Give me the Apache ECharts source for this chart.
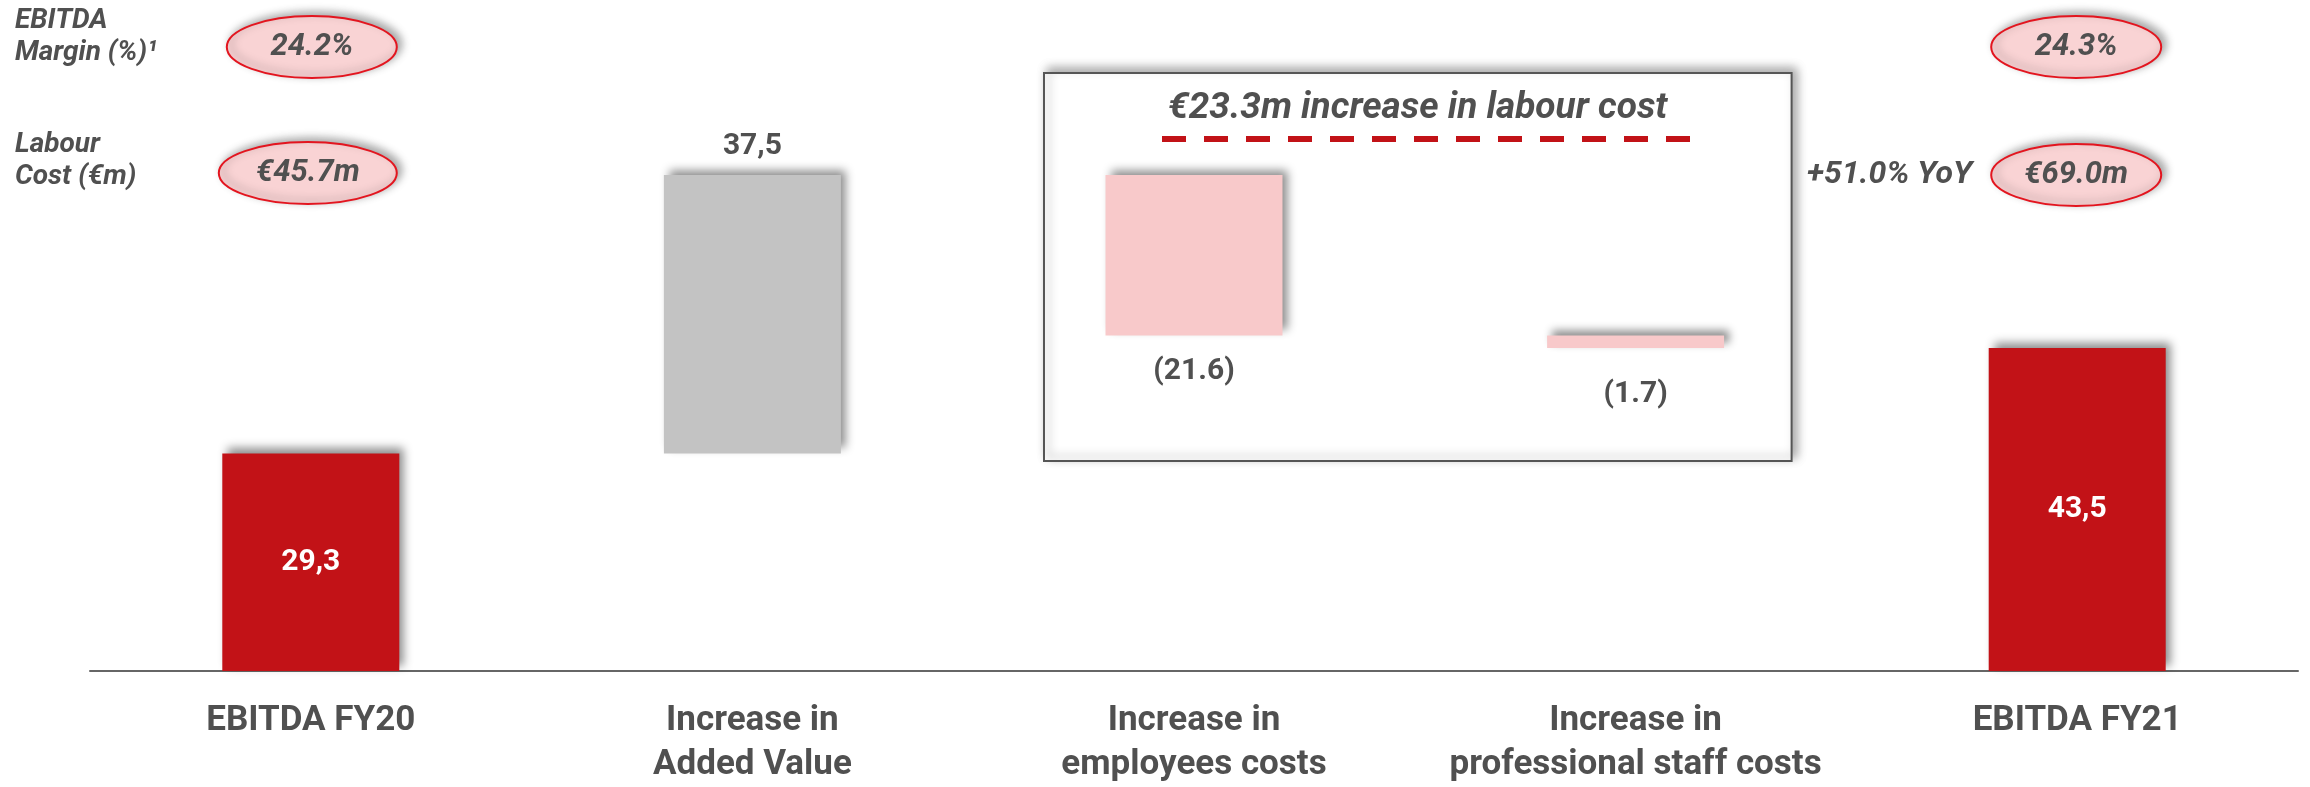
<!DOCTYPE html>
<html>
<head>
<meta charset="utf-8">
<script src="https://cdn.jsdelivr.net/npm/echarts@6/dist/echarts.min.js"></script>
<style>
  html, body { margin: 0; padding: 0; background: #ffffff; }
  #chart { width: 2310px; height: 787px; }
</style>
</head>
<body>
<div id="chart"></div>
<script>
// EBITDA bridge FY20 -> FY21 (€m)
const categories = [
  'EBITDA FY20',
  'Increase in\nAdded Value',
  'Increase in\nemployees costs',
  'Increase in\nprofessional staff costs',
  'EBITDA FY21'
];
const stepValues = [29.3, 37.5, -21.6, -1.7, 43.5];
const stepKinds = ['total', 'increase', 'decrease', 'decrease', 'total'];

// Header annotations
const marginLabels = ['24.2%', '24.3%'];
const labourCostLabels = ['€45.7m', '€69.0m'];
const labourCostGrowth = '+51.0% YoY';
const labourCostIncrease = '€23.3m increase in labour cost';

const TEXT = '#505050';
const FONT = 'Roboto, "Noto Sans", sans-serif';
const kindColors = { total: '#C21217', increase: '#C3C3C3', decrease: '#F8C9CA' };

// Waterfall: invisible base + visible step
const baseData = [];
const stepData = [];
let running = 0;
stepValues.forEach((v, i) => {
  const kind = stepKinds[i];
  if (kind === 'total') {
    baseData.push(0);
    running = v;
  } else if (kind === 'increase') {
    baseData.push(running);
    running += v;
  } else {
    running += v;
    baseData.push(running);
  }
  const isTotal = kind === 'total';
  stepData.push({
    value: Math.abs(v),
    itemStyle: { color: kindColors[kind] },
    label: isTotal
      ? { position: 'inside', color: '#ffffff', fontSize: 30 }
      : kind === 'increase'
        ? { position: 'top', distance: 14, color: TEXT, fontSize: 30 }
        : { position: 'bottom', distance: i === 3 ? 31 : 21, color: TEXT, fontSize: 30 }
  });
});

function formatStep(i) {
  const v = stepValues[i];
  if (stepKinds[i] === 'decrease') return '(' + Math.abs(v).toFixed(1) + ')';
  return v.toFixed(1).replace('.', ',');
}

const chart = echarts.init(document.getElementById('chart'), null, { renderer: 'canvas' });

chart.setOption({
  animation: false,
  backgroundColor: '#ffffff',
  grid: { left: 90, right: 12, top: 77, bottom: 112 },
  xAxis: {
    type: 'category',
    data: categories,
    axisLine: { show: true, lineStyle: { color: '#666666', width: 2 } },
    axisTick: { show: false },
    axisLabel: {
      color: TEXT,
      fontFamily: FONT,
      fontWeight: 'bold',
      fontSize: 35,
      lineHeight: 44,
      margin: 28,
      interval: 0
    }
  },
  yAxis: {
    type: 'value',
    min: 0,
    max: 80,
    show: false,
    splitLine: { show: false }
  },
  series: [
    {
      type: 'bar',
      stack: 'bridge',
      data: baseData,
      barWidth: 177,
      itemStyle: { color: 'rgba(0,0,0,0)' },
      emphasis: { disabled: true },
      silent: true
    },
    {
      type: 'bar',
      stack: 'bridge',
      data: stepData,
      barWidth: 177,
      itemStyle: {
        shadowBlur: 9,
        shadowColor: 'rgba(0,0,0,0.45)',
        shadowOffsetX: 5,
        shadowOffsetY: -5
      },
      label: {
        show: true,
        fontFamily: FONT,
        fontWeight: 'bold',
        formatter: p => formatStep(p.dataIndex)
      },
      emphasis: { disabled: true }
    }
  ]
});

// Annotations placed against the category positions
const xs = categories.map((c, i) => chart.convertToPixel({ xAxisIndex: 0 }, i));

function ellipse(cx, cy, rx, ry, text) {
  return [
    {
      type: 'ellipse',
      z: 5,
      shape: { cx, cy, rx, ry },
      style: {
        fill: '#F9D3D4',
        stroke: '#E3151F',
        lineWidth: 2,
        shadowBlur: 8,
        shadowColor: 'rgba(0,0,0,0.35)',
        shadowOffsetX: 4,
        shadowOffsetY: -3
      }
    },
    {
      type: 'text',
      z: 6,
      x: cx,
      y: cy,
      style: {
        text,
        fill: TEXT,
        fontFamily: FONT,
        fontSize: 31,
        fontWeight: 'bold',
        fontStyle: 'italic',
        align: 'center',
        verticalAlign: 'middle'
      }
    }
  ];
}

function headerText(x, y, text, align, size) {
  return {
    type: 'text',
    z: 6,
    x,
    y,
    style: {
      text,
      fill: TEXT,
      fontFamily: FONT,
      fontSize: size || 28,
      fontWeight: 'bold',
      fontStyle: 'italic',
      lineHeight: 32,
      align: align || 'left',
      verticalAlign: 'middle'
    }
  };
}

const boxLeft = xs[2] - 150;
const boxRight = xs[3] + 156;
const boxTop = 73;
const boxBottom = 461;
const boxMid = (boxLeft + boxRight) / 2;

const graphics = [
  // labour cost box
  {
    type: 'rect',
    z: 0,
    shape: { x: boxLeft, y: boxTop, width: boxRight - boxLeft, height: boxBottom - boxTop },
    style: {
      fill: '#ffffff',
      stroke: '#555555',
      lineWidth: 2,
      shadowBlur: 10,
      shadowColor: 'rgba(0,0,0,0.35)',
      shadowOffsetX: 4,
      shadowOffsetY: -4
    }
  },
  {
    type: 'text',
    z: 6,
    x: boxMid,
    y: 109,
    style: {
      text: labourCostIncrease,
      fill: TEXT,
      fontFamily: FONT,
      fontSize: 37,
      fontWeight: 'bold',
      fontStyle: 'italic',
      align: 'center',
      verticalAlign: 'middle'
    }
  },
  {
    type: 'line',
    z: 6,
    shape: { x1: boxLeft + 118, y1: 139, x2: boxLeft + 650, y2: 139 },
    style: { stroke: '#C21217', lineWidth: 6, lineDash: [24, 18] }
  },
  // row headers
  headerText(15, 37, 'EBITDA\nMargin (%)¹'),
  headerText(15, 161, 'Labour\nCost (€m)'),
  headerText(xs[4] - 105, 175, labourCostGrowth, 'right', 32)
];

graphics.push(...ellipse(xs[0] + 1, 47, 85, 31, marginLabels[0]));
graphics.push(...ellipse(xs[0] - 3, 173, 89, 31, labourCostLabels[0]));
graphics.push(...ellipse(xs[4] - 1, 47, 85, 31, marginLabels[1]));
graphics.push(...ellipse(xs[4] - 1, 175, 85, 31, labourCostLabels[1]));

chart.setOption({ graphic: graphics });
</script>
</body>
</html>
